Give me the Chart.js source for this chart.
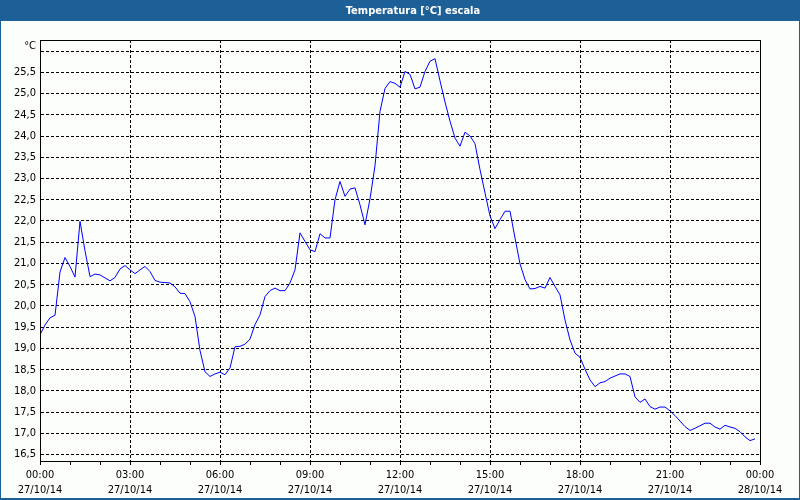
<!DOCTYPE html>
<html>
<head>
<meta charset="utf-8">
<script src="https://cdn.jsdelivr.net/npm/chart.js@4"></script>
<style>
html,body{margin:0;padding:0;background:#fbfefb;}
canvas{display:block;}
</style>
</head>
<body>
<canvas id="c" width="800" height="500"></canvas>
<script>
const chartTitle = "Temperatura [°C] escala";
const unitLabel = "°C";
const startMinute = 0;
const stepMinutes = 10;
const temps = [
  19.32, 19.55, 19.72, 19.78, 20.80, 21.14, 20.93, 20.68, 21.99, 21.30,
  20.69, 20.75, 20.73, 20.66, 20.59, 20.67, 20.87, 20.95, 20.85, 20.76,
  20.85, 20.93, 20.81, 20.60, 20.56, 20.55, 20.54, 20.45, 20.30, 20.29,
  20.10, 19.75, 18.95, 18.45, 18.34, 18.40, 18.44, 18.38, 18.54, 19.04,
  19.05, 19.10, 19.22, 19.56, 19.79, 20.22, 20.36, 20.42, 20.36, 20.36,
  20.54, 20.85, 21.72, 21.52, 21.32, 21.28, 21.70, 21.60, 21.60, 22.50,
  22.93, 22.58, 22.75, 22.78, 22.38, 21.91, 22.52, 23.30, 24.58, 25.12,
  25.28, 25.24, 25.15, 25.52, 25.45, 25.11, 25.15, 25.52, 25.76, 25.82,
  25.30, 24.80, 24.35, 23.95, 23.76, 24.09, 24.00, 23.82, 23.21, 22.66,
  22.12, 21.82, 22.03, 22.23, 22.23, 21.60, 20.99, 20.62, 20.40, 20.41,
  20.46, 20.42, 20.67, 20.46, 20.26, 19.67, 19.20, 18.89, 18.79, 18.51,
  18.26, 18.10, 18.19, 18.22, 18.30, 18.35, 18.40, 18.40, 18.34, 17.86,
  17.73, 17.81, 17.63, 17.57, 17.62, 17.62, 17.53, 17.42, 17.29, 17.16,
  17.07, 17.12, 17.18, 17.24, 17.24, 17.15, 17.10, 17.19, 17.15, 17.12,
  17.04, 16.92, 16.83, 16.87
];
const tickTimes = ["00:00","03:00","06:00","09:00","12:00","15:00","18:00","21:00","00:00"];
const tickDates = ["27/10/14","27/10/14","27/10/14","27/10/14","27/10/14","27/10/14","27/10/14","27/10/14","28/10/14"];
const yTicks = [16.5,17.0,17.5,18.0,18.5,19.0,19.5,20.0,20.5,21.0,21.5,22.0,22.5,23.0,23.5,24.0,24.5,25.0,25.5,26.0];

const points = temps.map((v, i) => ({x: startMinute + i * stepMinutes, y: v}));
const FONT = "'DejaVu Sans Condensed','DejaVu Sans',sans-serif";
const BLUE = "#1d5f97";

const framePlugin = {
  id: 'frame',
  beforeDraw(chart) {
    const ctx = chart.ctx;
    ctx.save();
    ctx.fillStyle = '#fbfefb';
    ctx.fillRect(0, 0, chart.width, chart.height);
    ctx.restore();
  },
  afterDraw(chart) {
    const ctx = chart.ctx;
    const a = chart.chartArea;
    ctx.save();
    ctx.strokeStyle = '#000';
    ctx.lineWidth = 1;
    ctx.setLineDash([]);
    ctx.strokeRect(Math.round(a.left) + 0.5, Math.round(a.top) + 0.5, Math.round(a.right - a.left), Math.round(a.bottom - a.top));
    // title bar
    ctx.fillStyle = BLUE;
    ctx.fillRect(0, 0, chart.width, 21);
    ctx.fillRect(0, 0, 1, chart.height);
    ctx.fillRect(chart.width - 1, 0, 1, chart.height);
    ctx.fillRect(0, chart.height - 2, chart.width, 2);
    ctx.fillStyle = '#ffffff';
    ctx.font = "bold 11px " + FONT;
    ctx.textAlign = 'center';
    ctx.textBaseline = 'middle';
    ctx.fillText(chartTitle, 413, 11);
    // unit label
    ctx.fillStyle = '#000';
    ctx.font = "11px " + FONT;
    ctx.textAlign = 'right';
    ctx.fillText(unitLabel, 36, 46);
    ctx.restore();
  }
};

new Chart(document.getElementById('c'), {
  type: 'line',
  data: {
    datasets: [{
      data: points,
      borderColor: '#0000ff',
      borderWidth: 1,
      pointRadius: 0,
      tension: 0,
      fill: false
    }]
  },
  options: {
    responsive: false,
    animation: false,
    events: [],
    layout: {padding: {left: 0, top: 40, right: 40, bottom: 0}},
    plugins: {legend: {display: false}, tooltip: {enabled: false}, title: {display: false}},
    scales: {
      x: {
        type: 'linear',
        min: 0,
        max: 1440,
        afterFit: (s) => { s.height = 39; },
        ticks: {
          stepSize: 60,
          autoSkip: false,
          maxRotation: 0,
          padding: 3,
          color: '#000',
          font: {family: FONT, size: 11, lineHeight: 1.36},
          callback: (v) => (v % 180 === 0) ? [tickTimes[v / 180], tickDates[v / 180]] : ''
        },
        grid: {
          color: (c) => (c.tick && c.tick.value % 180 === 0) ? '#000' : 'rgba(0,0,0,0)',
          tickColor: '#000',
          tickLength: 4,
          drawTicks: true
        },
        border: {display: true, color: '#000', width: 1, dash: [3, 2]}
      },
      y: {
        type: 'linear',
        min: 16.35,
        max: 26.26,
        afterFit: (s) => { s.width = 40; },
        afterBuildTicks: (s) => { s.ticks = yTicks.map(v => ({value: v})); },
        ticks: {
          padding: 4,
          color: '#000',
          font: {family: FONT, size: 11},
          callback: (v) => (Math.abs(v - 26) < 1e-6) ? '' : v.toFixed(1).replace('.', ',')
        },
        grid: {color: '#000', drawTicks: false},
        border: {display: true, color: '#000', width: 1, dash: [3, 2]}
      }
    }
  },
  plugins: [framePlugin]
});
</script>
</body>
</html>
